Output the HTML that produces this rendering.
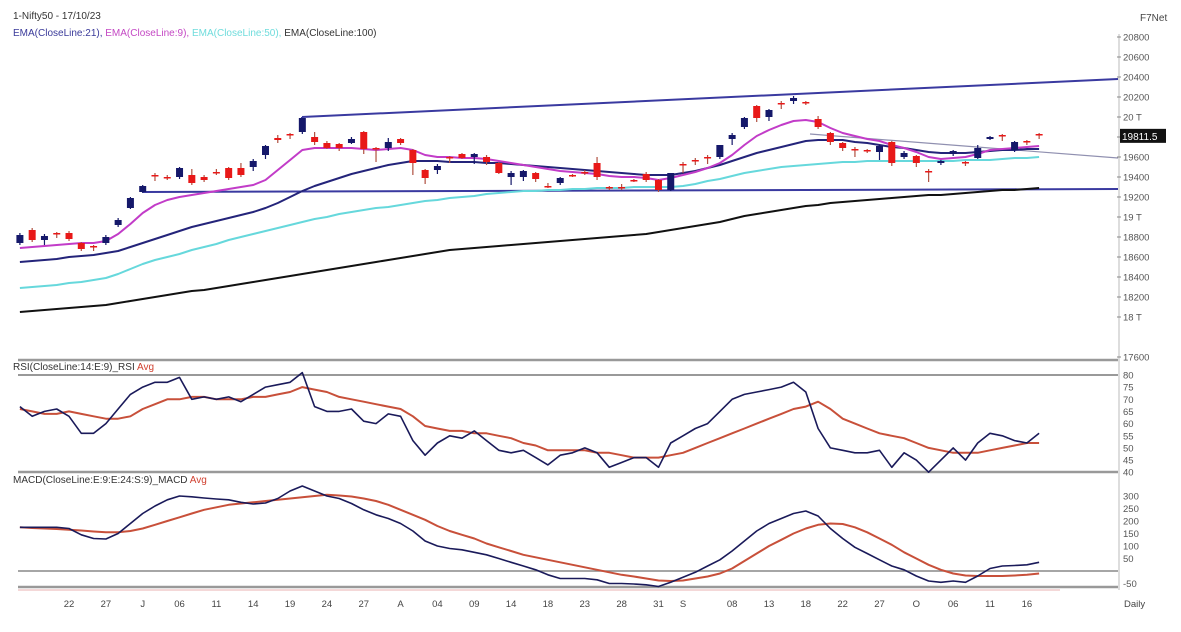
<!DOCTYPE html>
<html><head><meta charset="utf-8"><style>
body{margin:0;background:#fff;width:1181px;height:632px;overflow:hidden}
svg{display:block;font-family:"Liberation Sans",sans-serif}
</style></head><body>
<svg id="chart" width="1181" height="632" viewBox="0 0 1181 632">
<text x="13" y="19" font-size="10" fill="#333">1-Nifty50 - 17/10/23</text>
<text x="13" y="36" font-size="10"><tspan fill="#3a3a9a">EMA(CloseLine:21), </tspan><tspan fill="#c448c4">EMA(CloseLine:9), </tspan><tspan fill="#6fdcdc">EMA(CloseLine:50), </tspan><tspan fill="#333">EMA(CloseLine:100)</tspan></text>
<text x="1140" y="21" font-size="10" fill="#444">F7Net</text>
<text x="13" y="370" font-size="10" fill="#333">RSI(CloseLine:14:E:9)_RSI <tspan fill="#d04030">Avg</tspan></text>
<text x="13" y="483" font-size="10" fill="#333">MACD(CloseLine:E:9:E:24:S:9)_MACD <tspan fill="#d04030">Avg</tspan></text>
<g id="frame"></g><g id="marks"></g><g id="axes"></g>
</svg>
<script>
const priceTicks=[20800,20600,20400,20200,20000,19800,19600,19400,19200,19000,18800,18600,18400,18200,18000,17600];
const priceTickLabels=["20800","20600","20400","20200","20 T","19800","19600","19400","19200","19 T","18800","18600","18400","18200","18 T","17600"];
const rsiTicks=[80,75,70,65,60,55,50,45,40];
const macdTicks=[300,250,200,150,100,50,-50];
const dateIdx=[4,7,10,13,16,19,22,25,28,31,34,37,40,43,46,49,52,54,58,61,64,67,70,73,76,79,82];
const dateLabels=["22","27","J","06","11","14","19","24","27","A","04","09","14","18","23","28","31","S","08","13","18","22","27","O","06","11","16"];
const opens=[18740,18870,18770,18840,18840,18740,18710,18740,18920,19090,19250,19420,19400,19400,19420,19400,19450,19490,19490,19500,19620,19790,19830,19850,19800,19740,19730,19740,19850,19690,19690,19780,19670,19470,19470,19600,19630,19600,19600,19540,19400,19400,19440,19310,19340,19420,19450,19540,19300,19300,19370,19430,19370,19270,19530,19570,19600,19600,19780,19900,20110,20000,20140,20160,20150,19980,19840,19740,19680,19670,19650,19750,19600,19610,19460,19540,19630,19550,19590,19780,19820,19670,19760,19830];
const highs=[18840,18890,18830,18850,18860,18750,18720,18820,18990,19200,19320,19440,19420,19500,19480,19420,19480,19500,19540,19580,19720,19820,19840,19990,19850,19760,19740,19800,19860,19700,19790,19790,19680,19480,19530,19610,19640,19640,19620,19550,19460,19470,19450,19340,19400,19430,19470,19600,19310,19330,19380,19450,19380,19440,19550,19590,19620,19720,19840,20000,20120,20080,20160,20210,20160,20010,19850,19750,19700,19680,19720,19760,19660,19620,19480,19570,19670,19560,19720,19810,19830,19760,19770,19840];
const lows=[18720,18750,18720,18790,18760,18660,18660,18720,18900,19080,19240,19360,19370,19380,19320,19350,19420,19370,19400,19460,19580,19740,19780,19830,19720,19680,19660,19730,19630,19550,19660,19720,19420,19330,19430,19540,19580,19530,19520,19430,19320,19360,19350,19290,19320,19400,19420,19370,19270,19270,19350,19350,19250,19260,19440,19520,19530,19580,19720,19880,19950,19960,20080,20130,20120,19880,19720,19660,19600,19640,19570,19510,19580,19500,19350,19520,19610,19510,19580,19770,19760,19650,19720,19780];
const closes=[18820,18770,18810,18830,18780,18680,18700,18800,18970,19190,19310,19410,19400,19490,19340,19370,19450,19390,19420,19560,19710,19770,19830,19990,19750,19690,19690,19780,19680,19680,19750,19740,19540,19390,19510,19600,19590,19630,19550,19440,19440,19460,19380,19310,19390,19410,19450,19400,19290,19300,19360,19370,19270,19440,19530,19570,19600,19720,19820,19990,19990,20070,20130,20190,20140,19900,19750,19690,19670,19660,19710,19540,19640,19540,19450,19560,19660,19540,19690,19800,19810,19750,19750,19820];
const ema9=[18690,18700,18710,18720,18730,18740,18740,18760,18830,18930,19040,19120,19170,19200,19220,19240,19260,19280,19300,19320,19370,19470,19570,19670,19690,19690,19690,19690,19680,19670,19680,19690,19670,19620,19600,19600,19590,19590,19580,19560,19540,19520,19500,19480,19460,19450,19440,19430,19410,19400,19400,19390,19370,19390,19420,19450,19490,19540,19620,19720,19810,19870,19920,19960,19970,19950,19890,19840,19810,19780,19760,19720,19690,19650,19600,19580,19590,19600,19630,19670,19680,19690,19700,19710];
const ema21=[18550,18560,18570,18580,18600,18610,18620,18640,18660,18700,18740,18780,18820,18860,18900,18930,18960,18990,19020,19050,19090,19140,19200,19260,19310,19350,19390,19430,19460,19490,19520,19540,19560,19560,19560,19550,19550,19550,19540,19540,19530,19520,19510,19500,19490,19480,19470,19460,19450,19440,19430,19420,19420,19420,19440,19460,19490,19520,19560,19600,19640,19670,19700,19730,19760,19770,19770,19770,19750,19740,19720,19700,19690,19670,19650,19640,19640,19640,19650,19660,19670,19670,19680,19680];
const ema50=[18290,18300,18310,18320,18340,18350,18370,18390,18430,18480,18530,18570,18600,18630,18670,18700,18730,18770,18800,18830,18860,18890,18920,18950,18980,19000,19030,19050,19070,19090,19100,19120,19140,19160,19170,19190,19200,19210,19230,19240,19250,19260,19260,19270,19270,19280,19280,19290,19290,19290,19300,19300,19300,19300,19310,19330,19360,19380,19410,19440,19460,19480,19500,19510,19520,19530,19540,19550,19550,19560,19560,19560,19560,19560,19560,19560,19560,19570,19570,19570,19580,19590,19590,19600];
const ema100=[18050,18060,18070,18080,18090,18100,18110,18120,18140,18160,18180,18200,18220,18240,18260,18270,18290,18310,18330,18350,18370,18390,18410,18430,18450,18470,18490,18510,18530,18550,18570,18590,18610,18630,18650,18670,18680,18690,18700,18710,18720,18730,18740,18750,18760,18770,18780,18790,18800,18810,18820,18830,18850,18870,18890,18910,18930,18950,18980,19010,19030,19050,19070,19090,19110,19120,19140,19150,19160,19170,19180,19190,19200,19210,19220,19220,19230,19240,19250,19260,19270,19270,19280,19290];
const rsi=[67,63,65,66,63,56,56,60,66,72,75,77,77,79,70,71,70,71,69,72,75,76,77,81,67,65,65,66,61,60,64,63,53,47,52,55,54,57,53,49,48,49,46,43,47,48,50,48,42,44,46,46,42,52,55,58,60,65,70,72,73,74,75,77,73,58,50,49,48,48,49,42,48,45,40,45,50,45,52,56,55,53,52,56];
const rsiAvg=[66,65,64,64,65,64,63,62,62,63,66,68,70,70,71,71,70,70,70,71,71,72,73,75,74,73,71,70,69,68,67,66,63,59,58,57,57,56,56,55,54,52,51,49,49,49,49,48,48,47,46,46,46,47,48,50,52,54,56,58,60,62,64,66,67,69,66,62,60,58,56,55,54,52,50,49,48,48,48,49,50,51,52,52];
const macd=[175,175,175,175,170,145,130,128,150,190,230,260,285,300,297,292,288,285,275,268,272,290,320,340,320,300,290,270,245,225,210,190,160,120,100,90,85,75,65,50,35,20,5,-15,-30,-30,-30,-35,-50,-50,-52,-55,-62,-45,-25,-5,20,45,80,120,160,190,210,230,240,220,170,130,95,70,45,20,5,-20,-40,-45,-40,-45,-20,10,20,22,25,35];
const macdAvg=[175,172,170,168,165,162,158,155,155,160,170,185,200,215,230,245,255,265,270,275,280,285,290,295,300,305,302,298,290,280,265,245,225,205,180,160,145,130,110,95,80,65,55,45,35,25,15,5,-5,-15,-22,-30,-38,-40,-38,-30,-22,-10,10,40,70,100,125,150,170,185,190,188,175,155,130,105,75,50,25,5,-10,-18,-20,-20,-20,-18,-15,-10];
const lastPrice=19811.5;

const NS="http://www.w3.org/2000/svg";
const xS=i=>19.9+i*12.28;
const yP=p=>217-(p-19000)*0.1;
const yR=v=>375+(80-v)*2.43;
const yM=v=>571-v*0.25;
function mk(parent,tag,attrs){const e=document.createElementNS(NS,tag);for(const k in attrs)e.setAttribute(k,attrs[k]);document.getElementById(parent).appendChild(e);return e;}

// frame lines
[[360,2.5,"#999"],[375,2,"#999"],[472,2.5,"#999"],[571,1.5,"#888"],[587,2.5,"#999"]].forEach(function(r){
  const l=mk("frame","line",{x1:18,x2:1118,y1:r[0],y2:r[0],stroke:r[2],"stroke-width":r[1]});
  
  
});
const bl=mk("frame","line",{x1:18,x2:1060,y1:590,y2:590,stroke:"#e8b0b0","stroke-width":1});


const ax=mk("frame","line",{x1:1119,x2:1119,y1:34,y2:590,stroke:"#bbb","stroke-width":1});



// trendlines
[[302,117,1118,79,"#3a3aa0",2],[143,192,1118,189,"#3a3aa0",2],[810,134,1118,158,"#9090b0",1.2]].forEach(function(t){
  const l=mk("marks","line",{x1:t[0],y1:t[1],x2:t[2],y2:t[3],stroke:t[4],"stroke-width":t[5]});
  
  
});
const tv=mk("marks","line",{x1:302,y1:117,x2:302,y2:125,stroke:"#3a3aa0","stroke-width":2});



function line(arr,yf,color,w,name){
  const d=arr.map((v,i)=>(i?"L":"M")+xS(i).toFixed(1)+" "+yf(v).toFixed(1)).join(" ");
  const p=mk("marks","path",{d:d,fill:"none",stroke:color,"stroke-width":w,"stroke-linejoin":"round"});
  
  
}
line(ema100,yP,"#111",2,"ema100-line");
line(ema50,yP,"#66d8dc",2,"ema50-line");
line(ema21,yP,"#24247a",2,"ema21-line");
line(ema9,yP,"#c23cc8",2,"ema9-line");

for(let i=0;i<closes.length;i++){
  const up=closes[i]>opens[i];
  const col=up?"#15186a":"#e81818";
  const x=xS(i);
  const w=mk("marks","line",{x1:x,x2:x,y1:yP(highs[i]),y2:yP(lows[i]),stroke:up?"#15186a":"#b05040","stroke-width":1.2});
  
  
  const top=yP(Math.max(opens[i],closes[i])),bot=yP(Math.min(opens[i],closes[i]));
  const r=mk("marks","rect",{x:x-3.5,y:top,width:7,height:Math.max(1.5,bot-top),fill:col});
  
  
}

line(rsiAvg,yR,"#c8503a",2,"rsi-avg-line");
line(rsi,yR,"#1a1a5a",1.6,"rsi-line");
line(macdAvg,yM,"#c8503a",2,"macd-avg-line");
line(macd,yM,"#1a1a5a",1.6,"macd-line");

// axes labels
priceTicks.forEach(function(p,k){
  const t=mk("axes","text",{x:1123,y:yP(p)+3.5,"font-size":9.5,fill:"#555"});
  t.textContent=priceTickLabels[k];
  
  
  const tk=mk("axes","line",{x1:1117,x2:1121,y1:yP(p),y2:yP(p),stroke:"#888"});
  
  
});
rsiTicks.forEach(function(v){
  const t=mk("axes","text",{x:1123,y:yR(v)+3.5,"font-size":9.5,fill:"#555"});
  t.textContent=String(v);
  
  
});
macdTicks.forEach(function(v){
  const t=mk("axes","text",{x:1123,y:yM(v)+3.5,"font-size":9.5,fill:"#555"});
  t.textContent=String(v);
  
  
});
dateIdx.forEach(function(i,k){
  const t=mk("axes","text",{x:xS(i),y:607,"font-size":9.5,fill:"#444","text-anchor":"middle"});
  t.textContent=dateLabels[k];
  
  
});
const dl=mk("axes","text",{x:1124,y:607,"font-size":9.5,fill:"#444"});
dl.textContent="Daily";


const lb=mk("axes","rect",{x:1120,y:yP(lastPrice)-7,width:46,height:14,fill:"#111"});


const lt=mk("axes","text",{x:1122,y:yP(lastPrice)+4,"font-size":10,fill:"#fff"});
lt.textContent=String(lastPrice);


</script>
</body></html>
